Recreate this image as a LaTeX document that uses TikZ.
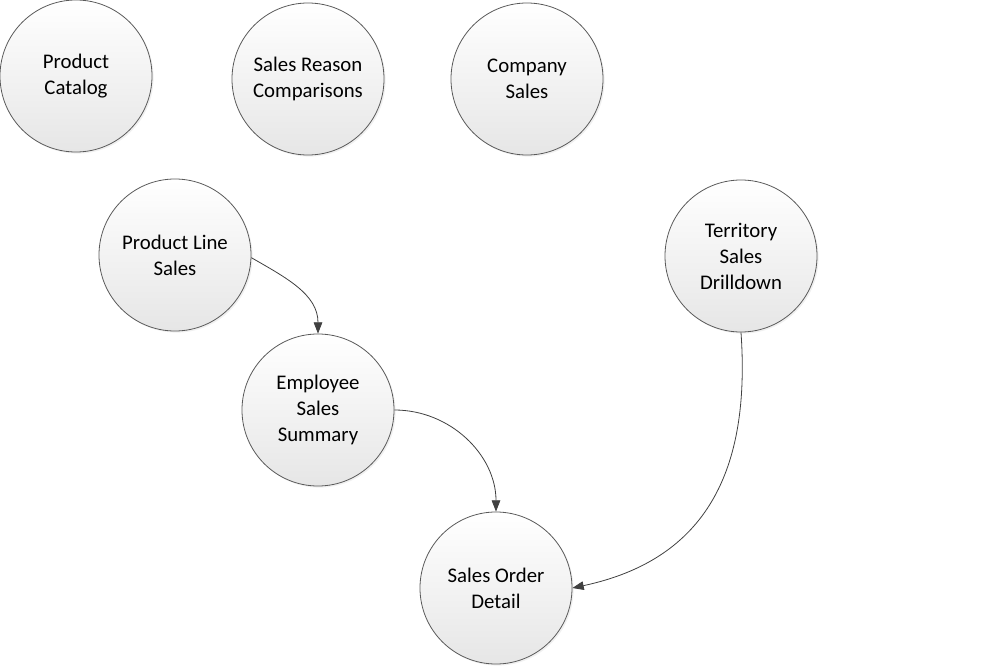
\documentclass[tikz,border=0pt]{standalone}
\usepackage{fontspec}
\setmainfont{Carlito}
\usetikzlibrary{arrows.meta,shadows}
\definecolor{rimgray}{HTML}{5A5A5A}
\definecolor{linkgray}{HTML}{404040}
\definecolor{fillgray}{HTML}{E6E6E6}
\begin{document}
\begin{tikzpicture}[x=0.75pt,y=-0.75pt]
  \useasboundingbox (0,0) rectangle (997,667);
  \begin{scope}[every node/.style={circle,draw=rimgray,line width=0.6pt,
      top color=white,bottom color=fillgray,minimum size=114pt,inner sep=0pt,
      align=center,font=\fontsize{15.6}{19.5}\selectfont,
      drop shadow={opacity=0.12,shadow xshift=1.2pt,shadow yshift=-1.2pt}}]
  \node (pc) at (76,76) {Product\\Catalog};
  \node (src) at (308,79) {Sales Reason\\Comparisons};
  \node (cs) at (527,79) {Company\\Sales};
  \node (pls) at (175,255) {Product Line\\Sales};
  \node (ter) at (741,256) {Territory\\Sales\\Drilldown};
  \node (ess) at (318,410) {Employee\\Sales\\Summary};
  \node (sod) at (496,588) {Sales Order\\Detail};
  \end{scope}
  \begin{scope}[every edge/.style={draw=linkgray,line width=0.6pt,
      -{Triangle[length=8.5pt,width=6.5pt]}}]
  \path (pls.-2) edge[out=-30,in=90] (ess.north);
  \path (ess.east) edge[out=0,in=90] (sod.north);
  \path (ter.south) edge[out=-86,in=12,looseness=1.15] (sod.east);
  \end{scope}
\end{tikzpicture}
\end{document}
